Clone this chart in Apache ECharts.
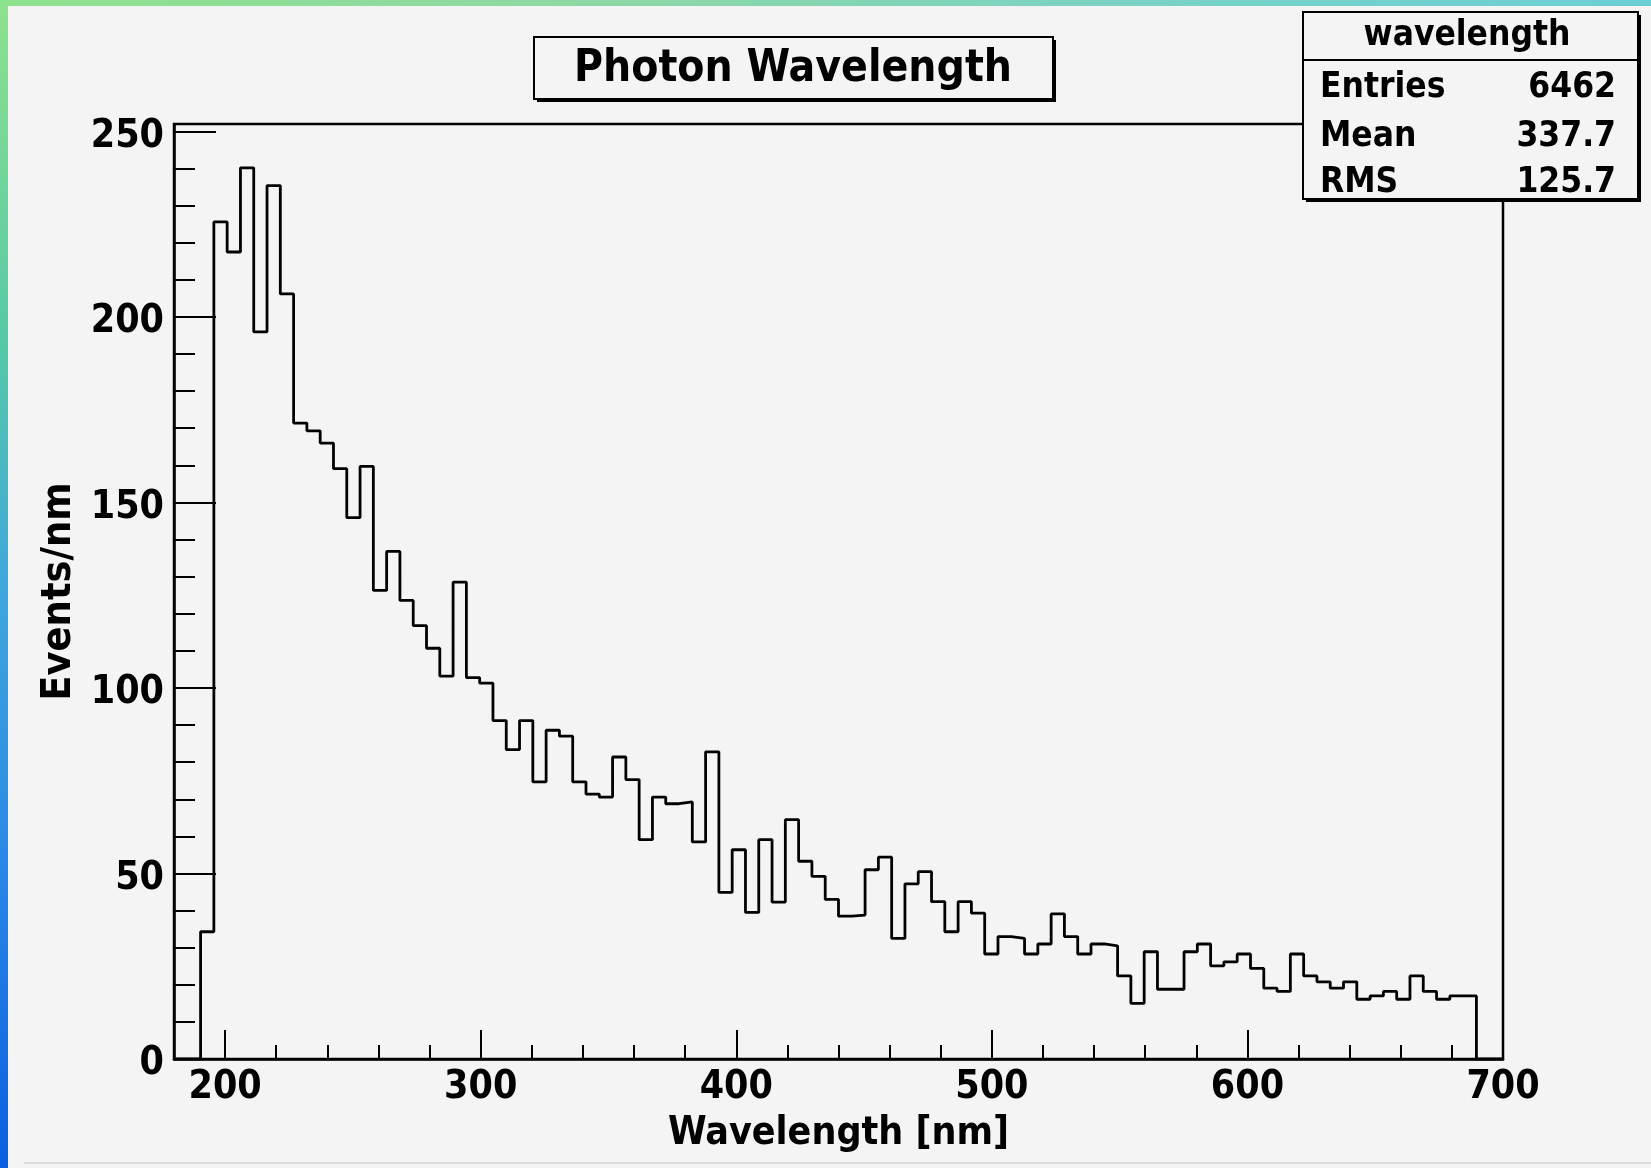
<!DOCTYPE html>
<html>
<head>
<meta charset="utf-8">
<script src="https://cdn.jsdelivr.net/npm/echarts@6/dist/echarts.min.js"></script>
<style>
  html, body { margin: 0; padding: 0; background: #f4f4f4; }
  #chart { width: 1651px; height: 1168px; }
</style>
</head>
<body>
<div id="chart"></div>
<script>
// ---- Data ----
const histTitle = 'Photon Wavelength';
const histName = 'wavelength';
const xAxisTitle = 'Wavelength [nm]';
const yAxisTitle = 'Events/nm';
const histMin = 180;      // lower edge of first bin (nm)
const histMax = 700;      // upper edge of last bin (nm)
// Events/nm per bin, 100 equal bins from histMin to histMax
const binValues = [
  0, 0, 34.3, 225.6, 217.5, 240.2, 196, 235.4, 206.2, 171.4,
  169.3, 166, 159.1, 145.9, 159.7, 126.3, 136.8, 123.6, 116.8, 110.7,
  103.2, 128.5, 102.8, 101.3, 91.2, 83.4, 91.2, 74.7, 88.6, 87.0,
  74.7, 71.4, 70.6, 81.4, 75.3, 59.1, 70.6, 68.8, 69.3, 58.5,
  82.8, 44.9, 56.4, 39.5, 59.1, 42.3, 64.5, 53.3, 49.2, 43,
  38.5, 38.8, 51, 54.4, 32.5, 47.2, 50.5, 42.4, 34.3, 42.4,
  39.3, 28.3, 33.0, 32.5, 28.3, 31.0, 39.1, 33.0, 28.3, 31.0,
  30.5, 22.4, 15.0, 28.9, 18.8, 18.8, 28.9, 31.0, 25.1, 26.2,
  28.3, 24.4, 19.1, 18.2, 28.3, 22.4, 20.8, 19.1, 20.8, 16.1,
  17.0, 18.2, 16.1, 22.4, 18.2, 16.1, 17.0, 17.0, 0, 0
];
const statsLabels = ['Entries', 'Mean', 'RMS'];
const statsValues = ['6462', '337.7', '125.7'];
const yMax = 252;

// ---- Build histogram step points from bin edges ----
const nBins = binValues.length;
const binWidth = (histMax - histMin) / nBins;
const stepPoints = binValues.map((v, i) => [histMin + i * binWidth, v]);
stepPoints.push([histMax, 0]);

const FONT = "'DejaVu Sans Condensed', 'DejaVu Sans', sans-serif";
const chart = echarts.init(document.getElementById('chart'), null, { renderer: 'canvas' });

const statsRowY = [88, 136.5, 183];

const graphics = [
  // colourful slide background strips
  { type: 'rect', z: -10, shape: { x: 0, y: 0, width: 8, height: 1168 },
    style: { fill: new echarts.graphic.LinearGradient(0, 0, 0, 1, [
      { offset: 0, color: '#8de28d' }, { offset: 0.3, color: '#55c8a8' },
      { offset: 0.5, color: '#3fa8dc' }, { offset: 0.75, color: '#2a86e6' },
      { offset: 1, color: '#0a5fe0' }]) } },
  { type: 'rect', z: -10, shape: { x: 0, y: 0, width: 1651, height: 6 },
    style: { fill: new echarts.graphic.LinearGradient(0, 0, 1, 0, [
      { offset: 0, color: '#8de28d' }, { offset: 0.35, color: '#8fd8a4' },
      { offset: 0.7, color: '#78d2c6' }, { offset: 1, color: '#6ccfd6' }]) } },
  { type: 'line', z: -5, shape: { x1: 24, y1: 1163, x2: 1651, y2: 1163 },
    style: { stroke: '#dcdcdc', lineWidth: 2 } },

  // title box with shadow
  { type: 'rect', z: 50, shape: { x: 537, y: 40, width: 519, height: 62 },
    style: { fill: '#000' } },
  { type: 'rect', z: 51, shape: { x: 534, y: 37, width: 519, height: 62 },
    style: { fill: '#f4f4f4', stroke: '#000', lineWidth: 2 } },
  { type: 'text', z: 52, x: 793, y: 70,
    style: { text: histTitle, fill: '#000', font: 'bold 44px ' + FONT,
      align: 'center', verticalAlign: 'middle' } },

  // stats box with shadow
  { type: 'rect', z: 50, shape: { x: 1306, y: 15, width: 335, height: 187 },
    style: { fill: '#000' } },
  { type: 'rect', z: 51, shape: { x: 1303, y: 12, width: 335, height: 187 },
    style: { fill: '#f4f4f4', stroke: '#000', lineWidth: 2 } },
  { type: 'line', z: 52, shape: { x1: 1303, y1: 60, x2: 1638, y2: 60 },
    style: { stroke: '#000', lineWidth: 2 } },
  { type: 'text', z: 52, x: 1467, y: 36,
    style: { text: histName, fill: '#000', font: 'bold 35px ' + FONT,
      align: 'center', verticalAlign: 'middle' } }
];
statsLabels.forEach((lab, i) => {
  graphics.push({ type: 'text', z: 52, x: 1320, y: statsRowY[i],
    style: { text: lab, fill: '#000', font: 'bold 35px ' + FONT,
      align: 'left', verticalAlign: 'middle' } });
  graphics.push({ type: 'text', z: 52, x: 1616, y: statsRowY[i],
    style: { text: statsValues[i], fill: '#000', font: 'bold 35px ' + FONT,
      align: 'right', verticalAlign: 'middle' } });
});

const axisLabelStyle = {
  color: '#000', fontWeight: 'bold', fontSize: 39, fontFamily: FONT
};

chart.setOption({
  animation: false,
  backgroundColor: '#f4f4f4',
  grid: {
    left: 174, top: 124, width: 1329, height: 935,
    show: true, borderColor: '#000', borderWidth: 2.5,
    backgroundColor: 'transparent', containLabel: false
  },
  xAxis: {
    type: 'value', min: histMin, max: histMax, splitNumber: 5,
    name: xAxisTitle, nameLocation: 'middle', nameGap: 55,
    nameTextStyle: { color: '#000', fontWeight: 'bold', fontSize: 39, fontFamily: FONT },
    axisLine: { show: true, onZero: false, lineStyle: { color: '#000', width: 2.5 } },
    axisTick: { show: true, inside: true, length: 29, lineStyle: { color: '#000', width: 2 } },
    minorTick: { show: true, splitNumber: 5, length: 14, lineStyle: { color: '#000', width: 2 } },
    splitLine: { show: false },
    axisLabel: Object.assign({ margin: 9, showMinLabel: false }, axisLabelStyle)
  },
  yAxis: {
    type: 'value', min: 0, max: yMax, interval: 50,
    name: yAxisTitle, nameLocation: 'middle', nameGap: 94, nameRotate: 90,
    nameTextStyle: { color: '#000', fontWeight: 'bold', fontSize: 41, fontFamily: FONT },
    axisLine: { show: true, lineStyle: { color: '#000', width: 2.5 } },
    axisTick: { show: true, inside: true, length: 42, lineStyle: { color: '#000', width: 2 } },
    minorTick: { show: true, splitNumber: 5, length: 21, lineStyle: { color: '#000', width: 2 } },
    splitLine: { show: false },
    axisLabel: Object.assign({ margin: 10, showMaxLabel: false, verticalAlign: 'top', lineHeight: 10 }, axisLabelStyle)
  },
  graphic: graphics,
  series: [{
    type: 'line',
    step: 'end',
    data: stepPoints,
    symbol: 'none',
    lineStyle: { color: '#000', width: 2.8 },
    z: 5
  }]
});
</script>
</body>
</html>
